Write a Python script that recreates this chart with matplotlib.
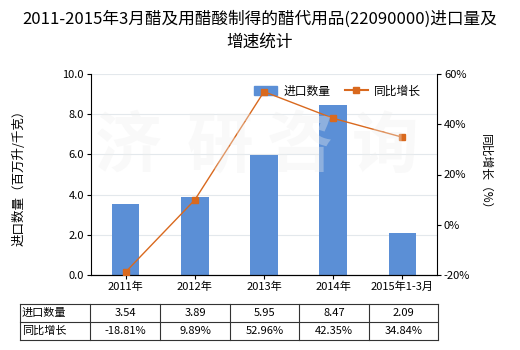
import matplotlib
matplotlib.use("Agg")
import matplotlib.pyplot as plt
from matplotlib.lines import Line2D
from matplotlib.patches import Patch

plt.rcParams['font.family'] = ['Noto Sans CJK SC', 'DejaVu Sans']

categories = ["2011年", "2012年", "2013年", "2014年", "2015年1-3月"]
volume = [3.54, 3.89, 5.95, 8.47, 2.09]
growth = [-18.81, 9.89, 52.96, 42.35, 34.84]
volume_labels = ["3.54", "3.89", "5.95", "8.47", "2.09"]
growth_labels = ["-18.81%", "9.89%", "52.96%", "42.35%", "34.84%"]
row_names = ["进口数量", "同比增长"]
title = "2011-2015年3月醋及用醋酸制得的醋代用品(22090000)进口量及\n增速统计"
watermark = "济研咨询"

bar_color = "#5B8FD6"
line_color = "#D9691E"

fig = plt.figure(figsize=(5.2, 3.5), dpi=100)
W, H = 520, 350
ax_l, ax_r, ax_t, ax_b = 91, 437, 74, 275
ax = fig.add_axes([ax_l / W, 1 - ax_b / H, (ax_r - ax_l) / W, (ax_b - ax_t) / H])

x = list(range(len(categories)))
ax.bar(x, volume, width=0.4, color=bar_color, zorder=2)
ax.set_xlim(-0.5, len(categories) - 0.5)
ax.set_ylim(0, 10)
ax.set_yticks([0, 2, 4, 6, 8, 10])
ax.set_yticklabels(["0.0", "2.0", "4.0", "6.0", "8.0", "10.0"], fontsize=8)
ax.grid(axis='y', color="#E3E8EC", linewidth=0.8, zorder=0)
ax.set_xticks(x)
ax.set_xticklabels(categories, fontsize=8)
ax.tick_params(axis='x', length=3, pad=2)
ax.tick_params(axis='y', length=3, pad=2)
for s in ["top", "right"]:
    ax.spines[s].set_visible(False)
ax.set_ylabel("进口数量（百万升/千克）", fontsize=9)
ax.yaxis.set_label_coords(-0.19, 0.5)

ax2 = ax.twinx()
ax2.plot(x, growth, color=line_color, marker='s', markersize=4, linewidth=1, zorder=3)
ax2.set_ylim(-20, 60)
ax2.set_yticks([-20, 0, 20, 40, 60])
ax2.set_yticklabels(["-20%", "0%", "20%", "40%", "60%"], fontsize=8)
ax2.tick_params(axis='y', length=3, pad=2)
for s in ["top", "left"]:
    ax2.spines[s].set_visible(False)
ax2.set_ylabel("同比增长（%）", fontsize=8.5, rotation=-90, va='center')
ax2.yaxis.set_label_coords(1.14, 0.5)

# faint watermark, one character at a time (pixel positions)
wm_centers = [128, 220, 300, 385]
for ch, cx in zip(watermark, wm_centers):
    fig.text(cx / W, 1 - 147 / H, ch, ha='center', va='center', fontsize=48, fontweight='bold',
             color="#EEEEEE", alpha=0.35, zorder=10)

handles = [Patch(color=bar_color), Line2D([0], [0], color=line_color, marker='s', markersize=4, linewidth=1.5)]
ax.legend(handles, ["进口数量", "同比增长"], loc='upper left', bbox_to_anchor=(0.44, 1.0), ncol=2,
          frameon=False, fontsize=8.5, handlelength=2.0, columnspacing=1.2, handletextpad=0.5)

fig.text(0.5, 1 - 11 / H, title, ha='center', va='top', fontsize=12, linespacing=1.45)

# table
col_edges = [20, 90, 160, 230, 299, 369, 438]
row_edges = [304, 322, 340]
for y in row_edges:
    fig.add_artist(Line2D([col_edges[0] / W, col_edges[-1] / W], [1 - y / H, 1 - y / H], color="#333333", linewidth=0.8))
for xe in col_edges:
    fig.add_artist(Line2D([xe / W, xe / W], [1 - row_edges[0] / H, 1 - row_edges[-1] / H], color="#333333", linewidth=0.8))
rows = [volume_labels, growth_labels]
for r in range(2):
    yc = 1 - (row_edges[r] + row_edges[r + 1]) / 2 / H
    fig.text((col_edges[0] + 2) / W, yc, row_names[r], ha='left', va='center', fontsize=8)
    for c in range(len(categories)):
        xc = (col_edges[c + 1] + col_edges[c + 2]) / 2 / W
        fig.text(xc, yc, rows[r][c], ha='center', va='center', fontsize=8)

fig.savefig("out.png", dpi=100)
